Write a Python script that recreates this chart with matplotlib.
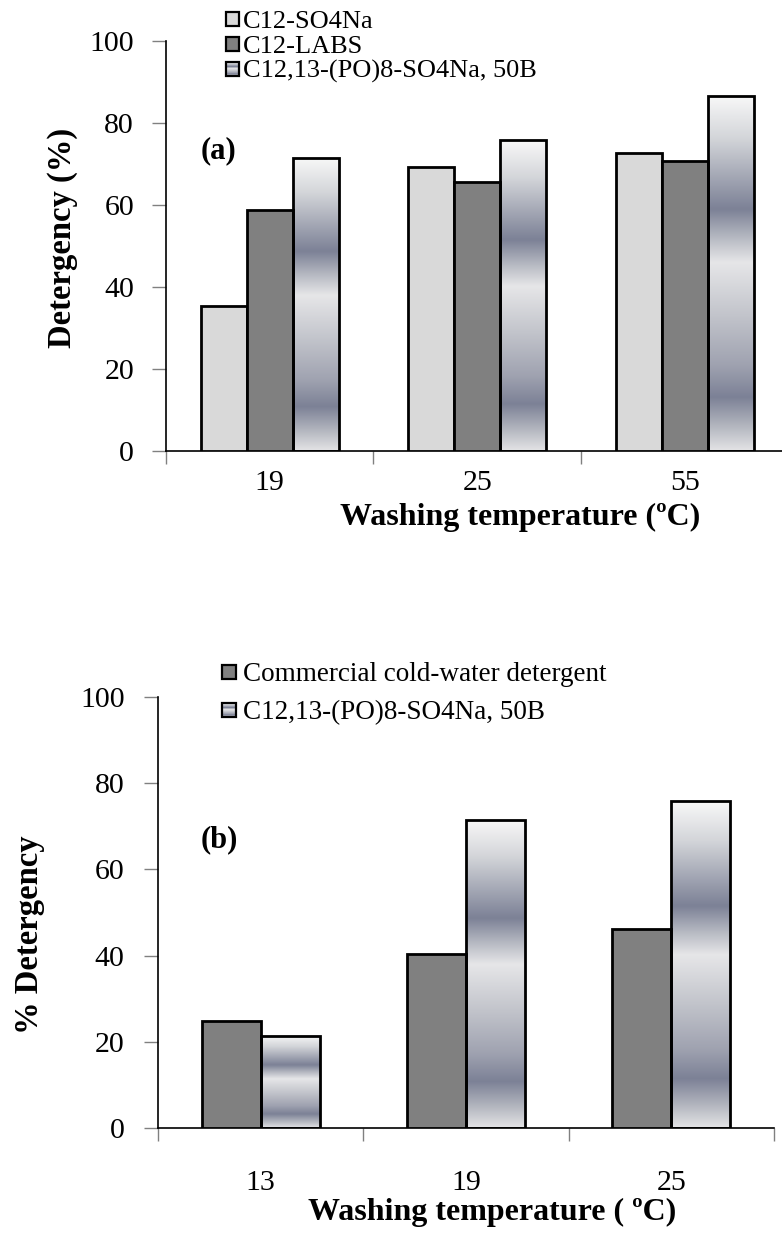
import numpy as np
import matplotlib
matplotlib.use("Agg")
import matplotlib.pyplot as plt
from matplotlib.colors import LinearSegmentedColormap
from matplotlib.patches import Rectangle

# ---- data ----
temps_a = ["19", "25", "55"]
sds_a = [35.4, 69.3, 72.7]          # C12-SO4Na
labs_a = [58.7, 65.6, 70.7]         # C12-LABS
peg_a = [71.5, 75.8, 86.6]          # C12,13-(PO)8-SO4Na, 50B

temps_b = ["13", "19", "25"]
commercial_b = [24.8, 40.4, 46.2]   # Commercial cold-water detergent
peg_b = [21.4, 71.5, 75.8]          # C12,13-(PO)8-SO4Na, 50B

names_a = ["C12-SO4Na", "C12-LABS", "C12,13-(PO)8-SO4Na, 50B"]
names_b = ["Commercial cold-water detergent", "C12,13-(PO)8-SO4Na, 50B"]

plt.rcParams["font.family"] = ["Liberation Serif", "DejaVu Serif"]

W, H = 782, 1235
fig = plt.figure(figsize=(W / 100, H / 100), dpi=100)

LIGHT = "#d9d9d9"
DARK = "#808080"

# banded metallic fill for the propoxylated surfactant bars (top -> bottom)
band_stops = [
    (0.00, "#f8f8f8"),
    (0.12, "#d3d5d9"),
    (0.32, "#7c8196"),
    (0.40, "#b6b9c2"),
    (0.47, "#e6e6e8"),
    (0.62, "#c2c4cb"),
    (0.76, "#9fa2b0"),
    (0.85, "#7c8196"),
    (0.93, "#b2b5be"),
    (1.00, "#e3e3e5"),
]
band_cmap = LinearSegmentedColormap.from_list("bands", band_stops)
band_img = np.linspace(0, 1, 256).reshape(-1, 1)


def banded_bars(ax, bars):
    for b in bars:
        x0, y0 = b.get_x(), b.get_y()
        x1, y1 = x0 + b.get_width(), y0 + b.get_height()
        im = ax.imshow(band_img, cmap=band_cmap, aspect="auto",
                       extent=(x0, x1, y0, y1), origin="upper",
                       interpolation="bilinear", zorder=2)
        im.set_clip_path(b)


def fx(px):
    return px / W


def fy(py):
    return 1 - py / H


def legend_rows(items, x_box, size, x_text, fontsize):
    """items: list of (label, fill, row-center-y in px). fill None -> bands."""
    cap = 0.66 * fontsize / 72 * 100
    for label, fill, yc in items:
        if fill is None:
            n = 14
            for k in range(n):
                fig.add_artist(Rectangle(
                    (fx(x_box), fy(yc - size / 2 + size * (k + 1) / n)),
                    size / W, size / n / H,
                    facecolor=band_cmap((k + 0.5) / n), edgecolor="none",
                    transform=fig.transFigure))
            fig.add_artist(Rectangle((fx(x_box), fy(yc + size / 2)),
                                     size / W, size / H, facecolor="none",
                                     edgecolor="black", lw=1.6,
                                     transform=fig.transFigure))
        else:
            fig.add_artist(Rectangle((fx(x_box), fy(yc + size / 2)),
                                     size / W, size / H, facecolor=fill,
                                     edgecolor="black", lw=1.6,
                                     transform=fig.transFigure))
        fig.text(fx(x_text), fy(yc + cap / 2), label, fontsize=fontsize,
                 ha="left", va="baseline")


def style_axes(ax, ylab_pad, xlab_pad):
    ax.set_ylim(0, 100)
    ax.set_xlim(0, 3)
    ax.set_yticks(range(0, 101, 20))
    ax.set_xticks([0, 1, 2, 3])
    ax.set_xticklabels([])
    ax.set_xticks([0.5, 1.5, 2.5], minor=True)
    for s in ("top", "right"):
        ax.spines[s].set_visible(False)
    for s in ("left", "bottom"):
        ax.spines[s].set_linewidth(1.2)
        ax.spines[s].set_color("black")
    ax.tick_params(axis="y", which="major", length=10, width=1.0,
                   color="#808080", labelsize=21.5, pad=ylab_pad)
    ax.tick_params(axis="x", which="major", length=9, width=1.0,
                   color="#808080", direction="out")
    ax.tick_params(axis="x", which="minor", length=0, labelsize=21.5,
                   pad=xlab_pad)
    ax.set_facecolor("none")


def px_axes(left, top, right, bottom):
    return fig.add_axes([left / W, 1 - bottom / H, (right - left) / W,
                         (bottom - top) / H])


# ---- panel (a) ----
ax1 = px_axes(166, 41, 788.5, 451)
bw = 0.222
xa = np.arange(3) + 0.5
ax1.bar(xa - bw, sds_a, bw, color=LIGHT, edgecolor="black", lw=2, zorder=3)
ax1.bar(xa, labs_a, bw, color=DARK, edgecolor="black", lw=2, zorder=3)
pa = ax1.bar(xa + bw, peg_a, bw, facecolor="none", edgecolor="black", lw=2,
             zorder=3)
banded_bars(ax1, pa)
style_axes(ax1, ylab_pad=13, xlab_pad=14)
ax1.set_xticklabels(temps_a, minor=True)
ax1.set_ylabel("Detergency (%)", fontsize=23.5, fontweight="bold")
ax1.yaxis.set_label_coords((78 - 166) / 622.5, (451 - 238) / 410)
ax1.set_xlabel("Washing temperature (ºC)", fontsize=23, fontweight="bold")
ax1.xaxis.set_label_coords((520 - 166) / 622.5, -0.127)
fig.text(fx(201), fy(151), "(a)", fontsize=22, fontweight="bold",
         va="center", ha="left")

legend_rows([(names_a[0], LIGHT, 19), (names_a[1], DARK, 44),
             (names_a[2], None, 69)],
            x_box=226, size=13, x_text=243, fontsize=19)

# ---- panel (b) ----
ax2 = px_axes(158, 697, 774, 1128)
bw2 = 0.287
xb = np.arange(3) + 0.5
ax2.bar(xb - bw2 / 2, commercial_b, bw2, color=DARK, edgecolor="black", lw=2,
        zorder=3)
pb = ax2.bar(xb + bw2 / 2, peg_b, bw2, facecolor="none", edgecolor="black",
             lw=2, zorder=3)
banded_bars(ax2, pb)
style_axes(ax2, ylab_pad=14, xlab_pad=30)
ax2.set_xticklabels(temps_b, minor=True)
ax2.set_ylabel("% Detergency", fontsize=23.5, fontweight="bold")
ax2.yaxis.set_label_coords((45 - 158) / 616, (1128 - 935) / 431)
ax2.set_xlabel("Washing temperature ( ºC)", fontsize=23, fontweight="bold")
ax2.xaxis.set_label_coords((492 - 158) / 616, -0.163)
fig.text(fx(201), fy(840), "(b)", fontsize=22, fontweight="bold",
         va="center", ha="left")

legend_rows([(names_b[0], DARK, 672), (names_b[1], None, 710)],
            x_box=222, size=14, x_text=243, fontsize=19.5)

fig.savefig("out.png", dpi=100)
